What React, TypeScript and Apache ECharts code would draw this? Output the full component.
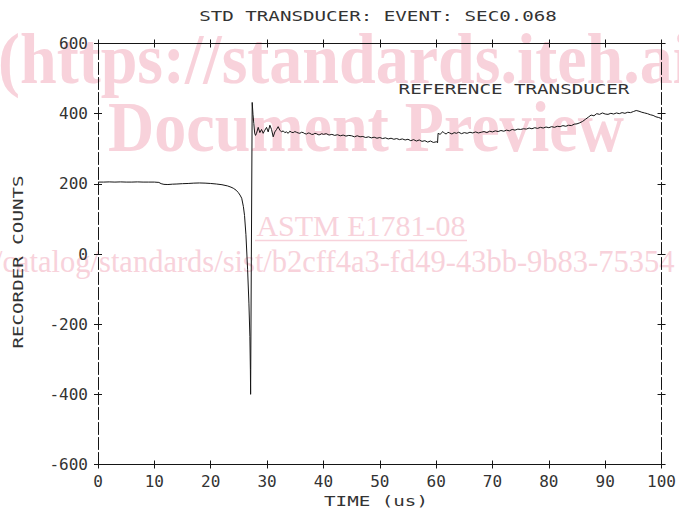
import React, { useEffect, useRef } from "react";
import * as echarts from "echarts";

// Time axis (microseconds) and recorder counts
const timeUs: number[] = [
  0, 1, 2, 3, 4, 5, 6, 7, 8, 9, 10, 10.8, 11.2, 11.7, 12.4, 13.2, 14, 15, 16, 17,
  18, 19, 20, 21, 22, 23, 23.6, 24, 24.5, 24.9, 25.2, 25.5, 25.8, 26, 26.25, 26.55, 26.78, 26.95, 27.04, 27.08,
  27.36, 27.5, 27.65, 27.8, 27.95, 28.13, 28.43, 28.72, 29.02, 29.31, 29.61, 29.91, 30.2, 30.5, 30.79, 31.09, 31.38, 31.68, 31.97, 32.27,
  32.57, 32.86, 33.15, 33.45, 33.75, 34.04, 34.34, 34.63, 34.93, 35.22, 35.52, 35.82, 36.11, 36.41, 36.7, 37, 37.3, 37.59, 37.89, 38.18,
  38.48, 38.77, 39.07, 39.36, 39.7, 40, 40.5, 41, 41.5, 42, 42.5, 43, 43.5, 44, 44.5, 45, 45.5, 46, 46.5, 47,
  47.5, 48, 48.5, 49, 49.5, 50, 50.5, 51, 51.5, 52, 52.5, 53, 53.5, 54, 54.5, 55, 55.5, 56, 56.5, 57,
  57.5, 58, 58.5, 59, 59.5, 60.1, 60.25, 60.35, 60.7, 61.2, 61.5, 61.8, 62.1, 62.4, 62.8, 63.2, 63.6, 64, 64.5, 65,
  65.5, 66, 66.5, 67, 67.5, 68, 68.5, 69, 69.5, 70, 70.5, 71, 71.5, 72, 72.5, 73, 73.5, 74, 74.5, 75,
  75.5, 76, 76.5, 77, 77.5, 78, 78.5, 79, 79.5, 80, 80.5, 81, 81.5, 82, 82.5, 83, 83.5, 84, 84.5, 85,
  85.5, 86, 86.5, 87, 87.5, 88, 88.5, 89, 89.5, 90, 90.5, 91, 91.5, 92, 92.5, 93, 93.5, 94, 94.5, 95,
  95.5, 96, 96.5, 97, 97.5, 98, 98.5, 99, 99.5, 100,
];

const counts: number[] = [
  205, 205, 205.5, 205, 205.5, 205, 205, 205.5, 205, 205, 205, 204, 200.5, 198.5, 198, 199, 199.5, 200.5, 201, 202,
  202.5, 202, 201, 199.5, 197.5, 194, 190.5, 187.5, 182, 175, 168, 159, 135, 110, 55, -45, -140, -235, -330, -400,
  432, 398, 372, 345, 338, 344, 361, 346, 355, 344, 353, 361, 348, 367, 355, 334, 348, 355, 363, 353,
  348, 351, 346, 348, 344, 350, 347, 346, 349, 347, 345, 344, 347, 346, 343, 342, 345, 344, 341, 341,
  344, 343, 340, 340, 343, 341, 343, 339, 341, 338, 340, 337, 339, 336, 338, 337, 334, 337, 334, 335,
  332, 334, 331, 333, 330, 332, 329, 331, 328, 330, 327, 329, 326, 328, 325, 327, 323, 326, 322, 325,
  321, 323, 319, 322, 318, 320, 317, 344, 341, 349, 344, 342, 347, 345, 342, 346, 344, 347, 343, 346,
  344, 347, 345, 348, 345, 347, 349, 346, 350, 348, 351, 349, 352, 350, 353, 351, 355, 353, 356, 355,
  357, 356, 359, 357, 360, 358, 361, 359, 362, 360, 363, 361, 364, 363, 366, 364, 367, 366, 370, 371,
  374, 378, 384, 390, 396, 394, 400, 398, 402, 399, 398, 401, 399, 402, 400, 403, 401, 404, 403, 406,
  409, 407, 404, 402, 400, 397, 395, 391, 389, 386,
];

const xMin = 0;
const xMax = 100;
const xStep = 10;
const yMin = -600;
const yMax = 600;
const yStep = 200;

const titleText = "STD TRANSDUCER: EVENT: SEC0.068";
const xName = "TIME (us)";
const yName = "RECORDER COUNTS";
const noteText = "REFERENCE TRANSDUCER";
const wm1 = "(https://standards.iteh.ai)";
const wm2 = "Document Preview";
const wm3 = "ASTM E1781-08";
const wm4 = "/catalog/standards/sist/b2cff4a3-fd49-43bb-9b83-75354";

export default function App() {
  const ref = useRef<HTMLDivElement>(null);

  useEffect(() => {
    if (!ref.current) return;
    const chart = echarts.init(ref.current, null, { renderer: "svg" });
    const ink = "#151515";
    const textInk = "#333333";
    const mono = "DejaVu Sans Mono";
    const pink = "#f8d2db";

    const mkX = (position: string, inside: boolean, showLine: boolean, showLabel: boolean) => ({
      type: "value",
      position,
      min: xMin,
      max: xMax,
      interval: xStep,
      axisLine: { show: showLine, onZero: false, lineStyle: { color: ink, width: 1 } },
      axisTick: { show: true, inside, length: 4, lineStyle: { color: ink, width: 1 } },
      axisLabel: showLabel
        ? { show: true, color: textInk, fontSize: 16, fontFamily: mono, margin: 9 }
        : { show: false },
      splitLine: { show: false },
    });
    const mkY = (position: string, inside: boolean, showLine: boolean, showLabel: boolean) => ({
      type: "value",
      position,
      min: yMin,
      max: yMax,
      interval: yStep,
      axisLine: { show: showLine, onZero: false, lineStyle: { color: ink, width: 1, type: [12, 3] } },
      axisTick: { show: true, inside, length: 4, lineStyle: { color: ink, width: 1 } },
      axisLabel: showLabel
        ? { show: true, color: textInk, fontSize: 16, fontFamily: mono, margin: 10 }
        : { show: false },
      splitLine: { show: false },
    });

    const plotText = (text: string, x: number, y: number, extra: any = {}) => ({
      type: "text",
      x,
      y,
      scaleX: 1.37,
      z: 5,
      ...extra,
      style: {
        text,
        fill: textInk,
        fontSize: 14,
        fontFamily: mono,
        align: "center",
        verticalAlign: "middle",
      },
    });

    const wmText = (
      text: string,
      x: number,
      y: number,
      size: number,
      bold: boolean,
      align: string,
      scaleY = 1
    ) => ({
      type: "text",
      x,
      y,
      scaleY,
      z: -10,
      silent: true,
      style: {
        text,
        fill: pink,
        fontSize: size,
        fontWeight: bold ? "bold" : "normal",
        fontFamily: "Liberation Serif",
        align,
        verticalAlign: "middle",
      },
    });

    chart.setOption({
      animation: false,
      backgroundColor: "#ffffff",
      grid: { left: 98, right: 17, top: 43.5, bottom: 48.5, containLabel: false },
      xAxis: [
        mkX("bottom", false, true, true),
        mkX("bottom", true, false, false),
        mkX("top", false, true, false),
        mkX("top", true, false, false),
      ],
      yAxis: [
        mkY("left", false, true, true),
        mkY("left", true, false, false),
        mkY("right", false, true, false),
        mkY("right", true, false, false),
      ],
      graphic: [
        wmText(wm1, -2, 59, 66, true, "left", 1.08),
        wmText(wm2, 366, 127, 64, true, "center", 1.12),
        wmText(wm3, 361, 225, 30, false, "center"),
        {
          type: "line",
          z: -10,
          silent: true,
          shape: { x1: 255, y1: 240.5, x2: 467, y2: 240.5 },
          style: { stroke: pink, lineWidth: 1.5 },
        },
        wmText(wm4, -6, 262, 30.5, false, "left"),
        plotText(titleText, 378, 16),
        plotText(noteText, 514, 89),
        plotText(xName, 376, 501),
        plotText(yName, 18, 262, { rotation: Math.PI / 2 }),
      ],
      series: [
        {
          type: "line",
          xAxisIndex: 0,
          yAxisIndex: 0,
          data: timeUs.map((t, i) => [t, counts[i]]),
          showSymbol: false,
          symbol: "none",
          lineStyle: { color: ink, width: 1 },
          z: 3,
        },
      ],
    });

    return () => {
      chart.dispose();
    };
  }, []);

  return (
    <div
      ref={ref}
      style={{ position: "fixed", left: 0, top: 0, width: 679, height: 513, background: "#fff" }}
    />
  );
}
